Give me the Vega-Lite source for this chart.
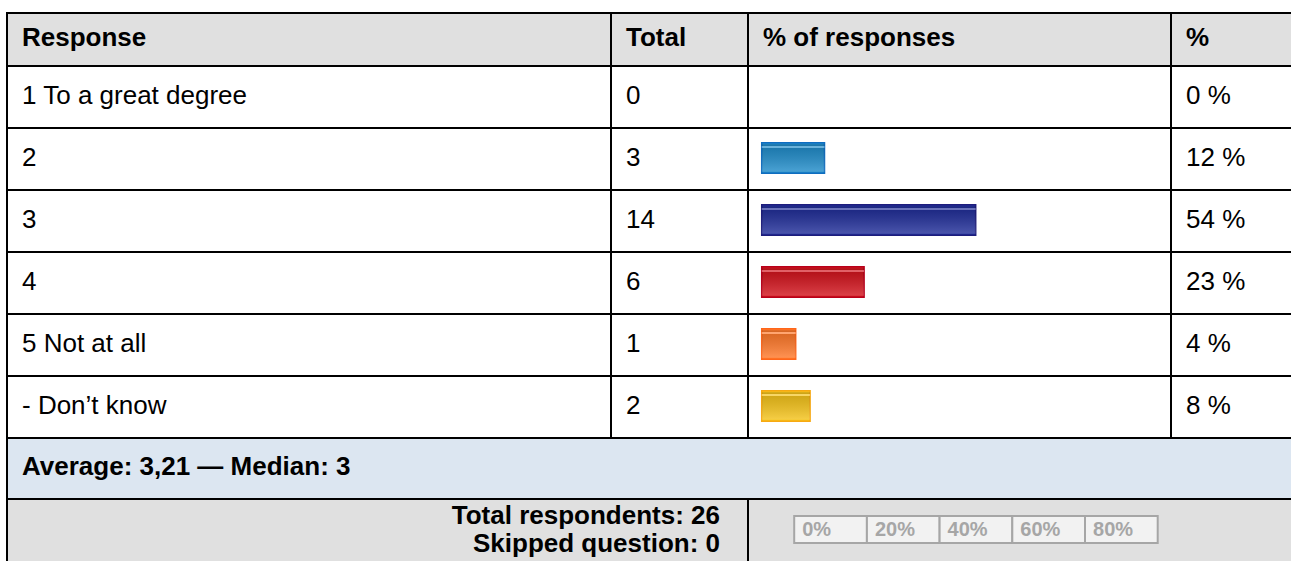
{
  "$schema": "https://vega.github.io/schema/vega-lite/v6.json",
  "padding": {"left": 6, "top": 12, "right": 0, "bottom": 0},
  "background": "white",
  "spacing": 0,
  "datasets": {
    "responses": [
      {"order": 1, "response": "1 To a great degree", "total": 0, "pct": 0},
      {"order": 2, "response": "2", "total": 3, "pct": 12},
      {"order": 3, "response": "3", "total": 14, "pct": 54},
      {"order": 4, "response": "4", "total": 6, "pct": 23},
      {"order": 5, "response": "5 Not at all", "total": 1, "pct": 4},
      {"order": 6, "response": "- Don’t know", "total": 2, "pct": 8}
    ]
  },
  "vconcat": [
    {
      "bounds": "flush",
      "spacing": 0,
      "hconcat": [
        {
          "width": 604, "height": 53,
          "view": {"fill": "#e0e0e0", "stroke": null},
          "data": {"values": [{"label": "Response"}]},
          "mark": {"type": "rule", "yOffset": 1, "strokeWidth": 2, "color": "#000000"},
          "encoding": {"y": {"field": "label", "type": "nominal", "bandPosition": 0, "scale": {"type": "band", "paddingInner": 0, "paddingOuter": 0}, "axis": {"title": null, "labelFontWeight": "bold"}}}
        },
        {
          "width": 137, "height": 53,
          "view": {"fill": "#e0e0e0", "stroke": null},
          "data": {"values": [{"label": "Total"}]},
          "mark": {"type": "rule", "yOffset": 1, "strokeWidth": 2, "color": "#000000"},
          "encoding": {"y": {"field": "label", "type": "nominal", "bandPosition": 0, "scale": {"type": "band", "paddingInner": 0, "paddingOuter": 0}, "axis": {"title": null, "labelFontWeight": "bold"}}}
        },
        {
          "width": 423, "height": 53,
          "view": {"fill": "#e0e0e0", "stroke": null},
          "data": {"values": [{"label": "% of responses"}]},
          "mark": {"type": "rule", "yOffset": 1, "strokeWidth": 2, "color": "#000000"},
          "encoding": {"y": {"field": "label", "type": "nominal", "bandPosition": 0, "scale": {"type": "band", "paddingInner": 0, "paddingOuter": 0}, "axis": {"title": null, "labelFontWeight": "bold"}}}
        },
        {
          "width": 120, "height": 53,
          "view": {"fill": "#e0e0e0", "stroke": null},
          "data": {"values": [{"label": "%"}]},
          "mark": {"type": "rule", "yOffset": 1, "strokeWidth": 2, "color": "#000000"},
          "encoding": {"y": {"field": "label", "type": "nominal", "bandPosition": 0, "scale": {"type": "band", "paddingInner": 0, "paddingOuter": 0}, "axis": {"title": null, "labelFontWeight": "bold"}}}
        }
      ]
    },
    {
      "bounds": "flush",
      "spacing": 0,
      "hconcat": [
        {
          "width": 604, "height": 372,
          "data": {"name": "responses"},
          "mark": {"type": "rule", "yOffset": 1, "strokeWidth": 2, "color": "#000000"},
          "encoding": {"y": {"field": "response", "type": "nominal", "bandPosition": 0, "sort": {"field": "order", "op": "min"}, "scale": {"type": "band", "paddingInner": 0, "paddingOuter": 0}, "axis": {"title": null}}}
        },
        {
          "width": 137, "height": 372,
          "data": {"name": "responses"},
          "mark": {"type": "rule", "yOffset": 1, "strokeWidth": 2, "color": "#000000"},
          "encoding": {"y": {"field": "total", "type": "ordinal", "bandPosition": 0, "sort": {"field": "order", "op": "min"}, "scale": {"type": "band", "paddingInner": 0, "paddingOuter": 0}, "axis": {"title": null}}}
        },
        {
          "width": 423, "height": 372,
          "data": {"name": "responses"},
          "layer": [
            {
              "mark": {"type": "rule", "yOffset": 1, "strokeWidth": 2, "color": "#000000"},
              "encoding": {"y": {"field": "response", "type": "nominal", "bandPosition": 0, "sort": {"field": "order", "op": "min"}, "scale": {"type": "band", "paddingInner": 0, "paddingOuter": 0}, "axis": {"title": null, "labels": false}}}
            },
            {
              "mark": {"type": "bar", "orient": "horizontal", "height": {"band": 0.49}, "strokeWidth": 1.5},
              "encoding": {
                "y": {"field": "response", "type": "nominal", "sort": {"field": "order", "op": "min"}},
                "x": {"field": "pct", "type": "quantitative", "scale": {"domain": [-9.25, 108.25], "nice": false, "zero": false}, "axis": null},
                "x2": {"datum": -5.44},
                "opacity": {"condition": {"test": "datum.pct > 0", "value": 1}, "value": 0},
                "color": {"field": "response", "type": "nominal", "legend": null, "scale": {"domain": ["1 To a great degree", "2", "3", "4", "5 Not at all", "- Don’t know"], "range": ["#ffffff", "#228dca", "#23309a", "#d3161f", "#ff7a2c", "#f4c31c"]}},
                "stroke": {"field": "response", "type": "nominal", "legend": null, "scale": {"domain": ["1 To a great degree", "2", "3", "4", "5 Not at all", "- Don’t know"], "range": ["#ffffff", "#0f6dbf", "#1d1d7c", "#b8001a", "#ff661a", "#f7a912"]}}
              }
            },
            {
              "mark": {
                "type": "bar", "orient": "horizontal", "height": {"band": 0.44}, "strokeWidth": 0,
                "fill": {"gradient": "linear", "x1": 0, "y1": 0, "x2": 0, "y2": 1, "stops": [
                  {"offset": 0, "color": "rgba(0,0,0,0.16)"},
                  {"offset": 0.05, "color": "rgba(0,0,0,0.16)"},
                  {"offset": 0.06, "color": "rgba(255,255,255,0.32)"},
                  {"offset": 0.12, "color": "rgba(255,255,255,0.32)"},
                  {"offset": 0.13, "color": "rgba(0,0,0,0.14)"},
                  {"offset": 1, "color": "rgba(255,255,255,0.18)"}
                ]}
              },
              "encoding": {
                "y": {"field": "response", "type": "nominal", "sort": {"field": "order", "op": "min"}},
                "x": {"field": "pct", "type": "quantitative"},
                "x2": {"datum": -5.44},
                "opacity": {"condition": {"test": "datum.pct > 0", "value": 1}, "value": 0}
              }
            }
          ]
        },
        {
          "width": 120, "height": 372,
          "data": {"name": "responses"},
          "mark": {"type": "rule", "yOffset": 1, "strokeWidth": 2, "color": "#000000"},
          "encoding": {"y": {"field": "pct", "type": "ordinal", "bandPosition": 0, "sort": {"field": "order", "op": "min"}, "scale": {"type": "band", "paddingInner": 0, "paddingOuter": 0}, "axis": {"title": null, "labelExpr": "datum.label + ' %'"}}}
        }
      ]
    },
    {
      "width": 1284, "height": 61,
      "view": {"fill": "#dce6f1", "stroke": null},
      "data": {"values": [{"label": "Average: 3,21 — Median: 3"}]},
      "mark": {"type": "rule", "yOffset": 1, "strokeWidth": 2, "color": "#000000"},
      "encoding": {"y": {"field": "label", "type": "nominal", "bandPosition": 0, "scale": {"type": "band", "paddingInner": 0, "paddingOuter": 0}, "axis": {"title": null, "labelFontWeight": "bold"}}}
    },
    {
      "bounds": "flush",
      "spacing": 0,
      "hconcat": [
        {
          "width": 741, "height": 63,
          "view": {"fill": "#e0e0e0", "stroke": null},
          "data": {"values": [{"label": "Total respondents: 26\nSkipped question: 0"}]},
          "mark": {"type": "rule", "yOffset": 1, "strokeWidth": 2, "color": "#000000"},
          "encoding": {"y": {"field": "label", "type": "nominal", "bandPosition": 0, "scale": {"type": "band", "paddingInner": 0, "paddingOuter": 0}, "axis": {"title": null, "labelFontWeight": "bold", "labelAlign": "right", "labelPadding": -713, "labelLineHeight": 28.5, "labelOffset": -13.5, "labelExpr": "split(datum.value, '\\n')"}}}
        },
        {
          "width": 543, "height": 63,
          "view": {"fill": "#e0e0e0", "stroke": null},
          "data": {"values": [
            {"kind": "scale", "from": 0, "to": 20, "label": "0%"},
            {"kind": "scale", "from": 20, "to": 40, "label": "20%"},
            {"kind": "scale", "from": 40, "to": 60, "label": "40%"},
            {"kind": "scale", "from": 60, "to": 80, "label": "60%"},
            {"kind": "scale", "from": 80, "to": 100, "label": "80%"}
          ]},
          "layer": [
            {
              "mark": {"type": "rule", "yOffset": 1, "strokeWidth": 2, "color": "#000000"},
              "encoding": {"y": {"field": "kind", "type": "nominal", "bandPosition": 0, "scale": {"type": "band", "paddingInner": 0, "paddingOuter": 0}, "axis": {"title": null, "labels": false}}}
            },
            {
              "mark": {"type": "bar", "orient": "horizontal", "height": {"band": 0.425}, "fill": "#f2f2f2", "stroke": "#a6a6a6", "strokeWidth": 2},
              "encoding": {
                "y": {"field": "kind", "type": "nominal"},
                "x": {"field": "from", "type": "quantitative", "scale": {"domain": [-12.71, 136.67], "nice": false, "zero": false}, "axis": null},
                "x2": {"field": "to"}
              }
            },
            {
              "mark": {"type": "text", "align": "left", "baseline": "middle", "dx": 8, "fontSize": 20, "fontWeight": "bold", "color": "#a6a6a6"},
              "encoding": {
                "y": {"field": "kind", "type": "nominal"},
                "x": {"field": "from", "type": "quantitative"},
                "text": {"field": "label", "type": "nominal"}
              }
            }
          ]
        }
      ]
    }
  ],
  "config": {
    "font": "Liberation Sans",
    "view": {"stroke": null},
    "concat": {"spacing": 0},
    "text": {"font": "Liberation Sans"},
    "axis": {
      "translate": 0,
      "ticks": false,
      "tickSize": 0,
      "grid": false,
      "domain": true,
      "domainColor": "#000000",
      "domainWidth": 2,
      "labelFont": "Liberation Sans",
      "labelFontSize": 26,
      "labelColor": "#000000",
      "labelLimit": 0,
      "labelOverlap": false,
      "labelPadding": -15,
      "labelAlign": "left",
      "labelBaseline": "middle"
    }
  }
}
